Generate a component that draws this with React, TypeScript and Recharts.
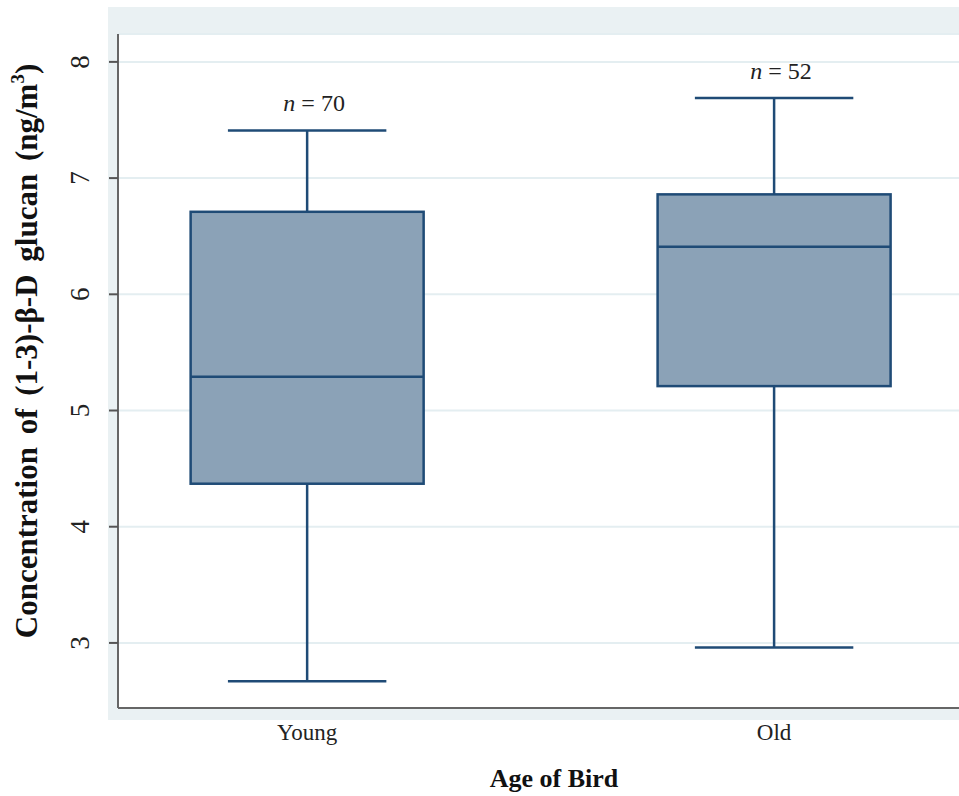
import React from 'react';
import { ComposedChart, Bar, XAxis, YAxis, CartesianGrid, LabelList, Label } from 'recharts';

const categories = ['Young', 'Old'];
const positions = [1, 2];
const mins = [2.67, 2.96];
const q1s = [4.37, 5.21];
const medians = [5.29, 6.41];
const q3s = [6.71, 6.86];
const maxs = [7.41, 7.69];
const counts = [70, 52];
const yTicks = [3, 4, 5, 6, 7, 8];

const data = categories.map((name, i) => ({
  name,
  pos: positions[i],
  range: [mins[i], maxs[i]],
  min: mins[i],
  q1: q1s[i],
  median: medians[i],
  q3: q3s[i],
  max: maxs[i],
  n: counts[i],
}));

const BOX_FILL = '#8ba2b7';
const BOX_STROKE = '#1f4b76';
const SERIF = '"Liberation Serif", "Times New Roman", serif';

const BoxShape = (props: any) => {
  const { x, y, width, height, payload } = props;
  const { min, max, q1, median, q3 } = payload;
  // map a value into pixels using the bar's own range (min..max)
  const toPx = (v: number) => y + (height * (max - v)) / (max - min);
  const cx = x + width / 2;
  const cap = width * 0.34;
  return (
    <g>
      <line x1={cx} x2={cx} y1={toPx(max)} y2={toPx(q3)} stroke={BOX_STROKE} strokeWidth={2.5} />
      <line x1={cx} x2={cx} y1={toPx(q1)} y2={toPx(min)} stroke={BOX_STROKE} strokeWidth={2.5} />
      <line x1={cx - cap} x2={cx + cap} y1={toPx(max)} y2={toPx(max)} stroke={BOX_STROKE} strokeWidth={2.5} />
      <line x1={cx - cap} x2={cx + cap} y1={toPx(min)} y2={toPx(min)} stroke={BOX_STROKE} strokeWidth={2.5} />
      <rect
        x={x}
        y={toPx(q3)}
        width={width}
        height={toPx(q1) - toPx(q3)}
        fill={BOX_FILL}
        stroke={BOX_STROKE}
        strokeWidth={2.5}
      />
      <line x1={x} x2={x + width} y1={toPx(median)} y2={toPx(median)} stroke={BOX_STROKE} strokeWidth={2.5} />
    </g>
  );
};

const CountLabel = (props: any) => {
  const { x, y, width, value } = props;
  return (
    <text x={x + width / 2 + 7} y={y - 19} textAnchor="middle" fontFamily={SERIF} fontSize={24} fill="#222">
      <tspan fontStyle="italic">n</tspan>
      <tspan>{` = ${value}`}</tspan>
    </text>
  );
};

const YTick = (props: any) => {
  const { x, y, payload } = props;
  const lx = x - 27;
  return (
    <text
      x={lx}
      y={y}
      transform={`rotate(-90, ${lx}, ${y})`}
      textAnchor="middle"
      dominantBaseline="central"
      fontFamily={SERIF}
      fontSize={27}
      fill="#222"
    >
      {payload.value}
    </text>
  );
};

const YTitle = () => (
  <text
    x={26}
    y={351}
    transform="rotate(-90, 26, 351)"
    textAnchor="middle"
    dominantBaseline="central"
    fontFamily={SERIF}
    fontWeight="bold"
    fontSize={31}
    wordSpacing={5}
    fill="#111"
  >
    Concentration of (1-3)-β-D glucan (ng/m
    <tspan dy={-9} fontSize={19}>3</tspan>
    <tspan dy={9}>)</tspan>
  </text>
);

const XTitle = () => (
  <text
    x={554}
    y={778}
    textAnchor="middle"
    dominantBaseline="central"
    fontFamily={SERIF}
    fontWeight="bold"
    fontSize={26}
    fill="#111"
  >
    Age of Bird
  </text>
);

export default function App() {
  return (
    <div style={{ position: 'absolute', left: 0, top: 0, width: 959, height: 796, background: '#fff' }}>
      <div style={{ position: 'absolute', left: 108, top: 7, width: 851, height: 713, background: '#eaf1f3' }} />
      <div style={{ position: 'absolute', left: 0, top: 0 }}>
        <ComposedChart width={959} height={796} data={data} margin={{ top: 34, right: 0, bottom: 0, left: 0 }}>
          <CartesianGrid vertical={false} stroke="#e4eef1" strokeWidth={2} fill="#ffffff" />
          <XAxis
            dataKey="pos"
            type="number"
            domain={[0.595, 2.396]}
            ticks={positions}
            allowDataOverflow
            height={88}
            tickLine={false}
            axisLine={{ stroke: '#666', strokeWidth: 2 }}
            tickFormatter={(v: number) => categories[positions.indexOf(v)] ?? ''}
            tick={{ fontFamily: SERIF, fontSize: 23, fill: '#222' }}
            tickMargin={10}
          >
            <Label content={<XTitle />} />
          </XAxis>
          <YAxis
            type="number"
            domain={[2.44, 8.24]}
            ticks={yTicks}
            allowDataOverflow
            width={118}
            tickSize={9}
            tick={<YTick />}
            tickLine={{ stroke: '#555', strokeWidth: 2 }}
            axisLine={{ stroke: '#666', strokeWidth: 2 }}
          >
            <Label content={<YTitle />} />
          </YAxis>
          <Bar dataKey="range" barSize={233} shape={<BoxShape />} isAnimationActive={false}>
            <LabelList dataKey="n" content={<CountLabel />} />
          </Bar>
        </ComposedChart>
      </div>
    </div>
  );
}
